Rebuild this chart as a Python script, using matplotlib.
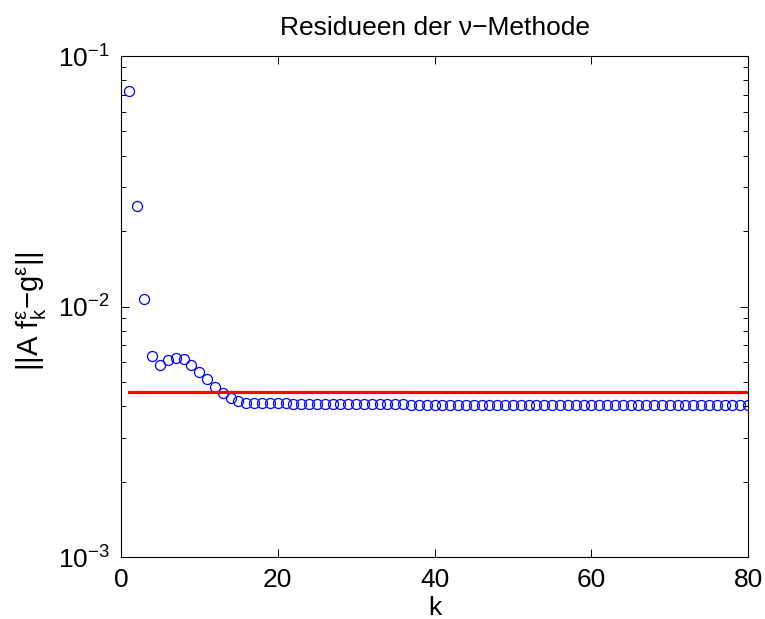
import numpy as np
import matplotlib
matplotlib.use("Agg")
import matplotlib.pyplot as plt
from matplotlib.ticker import LogLocator

plt.rcParams['font.family'] = ['Liberation Sans', 'DejaVu Sans']
plt.rcParams['mathtext.fontset'] = 'custom'
plt.rcParams['mathtext.rm'] = 'Liberation Sans'
plt.rcParams['mathtext.it'] = 'Liberation Sans'
plt.rcParams['mathtext.default'] = 'regular'

# residual per iteration k
k = list(range(1, 81))
residual = [
    0.0725, 0.0252, 0.01072, 0.00634, 0.00587, 0.00611, 0.00625, 0.00615, 0.00587, 0.00550,
    0.00512, 0.00479, 0.00450, 0.00430, 0.00421, 0.00414, 0.00413, 0.00412, 0.00412, 0.00411,
    0.00411, 0.00410, 0.00410, 0.00410, 0.00409, 0.00409, 0.00409, 0.00408, 0.00408, 0.00408,
    0.00408, 0.00407, 0.00407, 0.00407, 0.00407, 0.00407, 0.00406, 0.00406, 0.00406, 0.00406,
    0.00406, 0.00406, 0.00406, 0.00405, 0.00405, 0.00405, 0.00405, 0.00405, 0.00405, 0.00405,
    0.00405, 0.00405, 0.00405, 0.00404, 0.00404, 0.00404, 0.00404, 0.00404, 0.00404, 0.00404,
    0.00404, 0.00404, 0.00404, 0.00404, 0.00404, 0.00404, 0.00404, 0.00404, 0.00404, 0.00404,
    0.00404, 0.00404, 0.00404, 0.00404, 0.00404, 0.00404, 0.00404, 0.00404, 0.00404, 0.00404,
]
noise_level = 0.00454   # red threshold line
line_k = [1, 80]

fig = plt.figure(figsize=(7.65, 6.19), dpi=100)
ax = fig.add_axes([0.158, 0.100, 0.820, 0.8095])

ax.plot(k, residual, 'o', mfc='none', mec='#0000ff', ms=7.2, mew=0.9)
ax.plot(line_k, [noise_level, noise_level], c='#ff0000', lw=2.3)

ax.set_yscale('log')
ax.set_xlim(0, 80)
ax.set_ylim(1e-3, 1e-1)
ax.set_xticks([0, 20, 40, 60, 80])
ax.yaxis.set_minor_locator(LogLocator(base=10, subs=np.arange(2, 10)))
ax.tick_params(which='both', direction='in', top=True, right=True, labelsize=19, width=0.7)
ax.tick_params(which='major', length=6)
ax.tick_params(which='minor', length=3.5)
ax.tick_params(axis='x', pad=8)
ax.tick_params(axis='y', pad=8)
for s in ax.spines.values():
    s.set_linewidth(0.8)

ax.set_title('Residueen der ν−Methode', fontsize=19, pad=15)
ax.set_xlabel('k', fontsize=19, labelpad=3)
ax.set_ylabel(r'||A f$_k^{\varepsilon}$−g$^{\varepsilon}$||', fontsize=21)
ax.yaxis.set_label_coords(-0.115, 0.491)

fig.savefig('out.png', dpi=100)
